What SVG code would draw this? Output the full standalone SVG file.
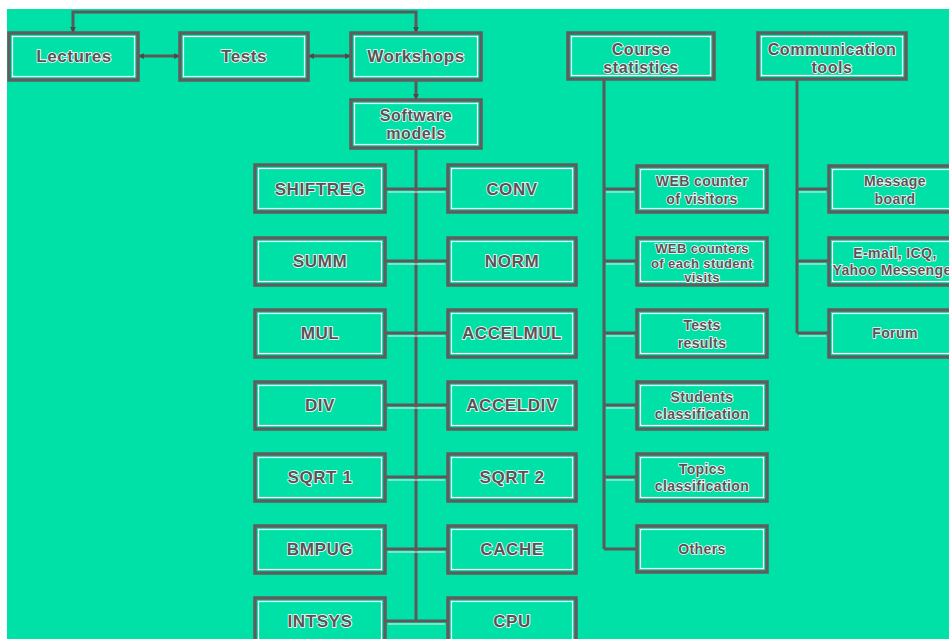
<svg xmlns="http://www.w3.org/2000/svg" width="949" height="639" viewBox="0 0 949 639">
<style>
.frame{fill:none;stroke:#5e5e5e;stroke-width:3.5}
.hl{fill:none;stroke:#ffffff;stroke-width:1.2}
.t{font-family:"Liberation Sans",Arial,sans-serif;font-weight:bold;font-size:17px;letter-spacing:0.6px;fill:#555555;stroke:#ffffff;stroke-width:1.6;paint-order:stroke;text-anchor:middle}
.t2{font-size:16px}
.s{font-family:"Liberation Sans",Arial,sans-serif;font-weight:bold;font-size:14px;letter-spacing:0.4px;fill:#555555;stroke:#ffffff;stroke-width:1.5;paint-order:stroke;text-anchor:middle}
.s3{font-size:13px}
.c{fill:none;stroke:#5a5a5a;stroke-width:3}
.ch{fill:none;stroke:#eeeeee;stroke-width:1}
</style>
<defs>
<marker id="ah" viewBox="0 0 8 8" refX="7" refY="4" markerWidth="6" markerHeight="6" markerUnits="userSpaceOnUse" orient="auto-start-reverse">
<path d="M0,0 L8,4 L0,8 Z" fill="#4a4a4a"/>
</marker>
</defs>
<rect x="0" y="0" width="949" height="639" fill="#ffffff"/>
<rect x="7" y="9" width="942" height="630" fill="#00e1a8"/>

<g id="connectors">
<path class="c" d="M73,32 V12 H416 V32" marker-start="url(#ah)" marker-end="url(#ah)"/>
<path class="c" d="M139,56 H179" marker-start="url(#ah)" marker-end="url(#ah)"/>
<path class="c" d="M309,56 H350" marker-start="url(#ah)" marker-end="url(#ah)"/>
<path class="c" d="M416,81 V99" marker-end="url(#ah)"/>
<path class="c" d="M416,149 V621"/>
<path class="c" d="M386,189 H447 M386,261 H447 M386,333 H447 M386,405 H447 M386,477 H447 M386,549 H447 M386,621 H447"/>
<path class="c" d="M604,80 V549"/>
<path class="c" d="M604,189 H636 M604,261 H636 M604,333 H636 M604,405 H636 M604,477 H636 M604,549 H636"/>
<path class="c" d="M797,80 V333"/>
<path class="c" d="M797,189 H828 M797,261 H828 M797,333 H828"/>
<path class="ch" d="M388,192 H445 M388,264 H445 M388,336 H445 M388,408 H445 M388,480 H445 M388,552 H445 M388,624 H445 M606,192 H634 M606,264 H634 M606,336 H634 M606,408 H634 M606,480 H634 M799,192 H826 M799,264 H826 M799,336 H826"/>
</g>

<g id="lectures"><rect class="frame" x="9" y="33" width="129" height="47"/><rect class="hl" x="12.5" y="36.5" width="122" height="40"/><text class="t" x="74" y="62">Lectures</text></g>
<g id="tests"><rect class="frame" x="180" y="33" width="128" height="47"/><rect class="hl" x="183.5" y="36.5" width="121" height="40"/><text class="t" x="244" y="62">Tests</text></g>
<g id="workshops"><rect class="frame" x="351" y="33" width="130" height="47"/><rect class="hl" x="354.5" y="36.5" width="123" height="40"/><text class="t" x="416" y="62">Workshops</text></g>
<g id="software-models"><rect class="frame" x="351" y="100" width="130" height="48"/><rect class="hl" x="354.5" y="103.5" width="123" height="41"/><text class="t t2" x="416" y="121">Software</text><text class="t t2" x="416" y="139">models</text></g>
<g id="course-statistics"><rect class="frame" x="568" y="33" width="146" height="46"/><rect class="hl" x="571.5" y="36.5" width="139" height="39"/><text class="t t2" x="641" y="55">Course</text><text class="t t2" x="641" y="73">statistics</text></g>
<g id="communication-tools"><rect class="frame" x="758" y="33" width="148" height="46"/><rect class="hl" x="761.5" y="36.5" width="141" height="39"/><text class="t t2" x="832" y="55">Communication</text><text class="t t2" x="832" y="73">tools</text></g>

<g id="shiftreg"><rect class="frame" x="255" y="165" width="130" height="47"/><rect class="hl" x="258.5" y="168.5" width="123" height="40"/><text class="t" x="320" y="195">SHIFTREG</text></g>
<g id="conv"><rect class="frame" x="448" y="165" width="128" height="47"/><rect class="hl" x="451.5" y="168.5" width="121" height="40"/><text class="t" x="512" y="195">CONV</text></g>
<g id="summ"><rect class="frame" x="255" y="238" width="130" height="47"/><rect class="hl" x="258.5" y="241.5" width="123" height="40"/><text class="t" x="320" y="267">SUMM</text></g>
<g id="norm"><rect class="frame" x="448" y="238" width="128" height="47"/><rect class="hl" x="451.5" y="241.5" width="121" height="40"/><text class="t" x="512" y="267">NORM</text></g>
<g id="mul"><rect class="frame" x="255" y="310" width="130" height="47"/><rect class="hl" x="258.5" y="313.5" width="123" height="40"/><text class="t" x="320" y="339">MUL</text></g>
<g id="accelmul"><rect class="frame" x="448" y="310" width="128" height="47"/><rect class="hl" x="451.5" y="313.5" width="121" height="40"/><text class="t" x="512" y="339">ACCELMUL</text></g>
<g id="div"><rect class="frame" x="255" y="382" width="130" height="47"/><rect class="hl" x="258.5" y="385.5" width="123" height="40"/><text class="t" x="320" y="411">DIV</text></g>
<g id="acceldiv"><rect class="frame" x="448" y="382" width="128" height="47"/><rect class="hl" x="451.5" y="385.5" width="121" height="40"/><text class="t" x="512" y="411">ACCELDIV</text></g>
<g id="sqrt1"><rect class="frame" x="255" y="454" width="130" height="47"/><rect class="hl" x="258.5" y="457.5" width="123" height="40"/><text class="t" x="320" y="483">SQRT 1</text></g>
<g id="sqrt2"><rect class="frame" x="448" y="454" width="128" height="47"/><rect class="hl" x="451.5" y="457.5" width="121" height="40"/><text class="t" x="512" y="483">SQRT 2</text></g>
<g id="bmpug"><rect class="frame" x="255" y="526" width="130" height="47"/><rect class="hl" x="258.5" y="529.5" width="123" height="40"/><text class="t" x="320" y="555">BMPUG</text></g>
<g id="cache"><rect class="frame" x="448" y="526" width="128" height="47"/><rect class="hl" x="451.5" y="529.5" width="121" height="40"/><text class="t" x="512" y="555">CACHE</text></g>
<g id="intsys"><rect class="frame" x="255" y="598" width="130" height="47"/><rect class="hl" x="258.5" y="601.5" width="123" height="40"/><text class="t" x="320" y="627">INTSYS</text></g>
<g id="cpu"><rect class="frame" x="448" y="598" width="128" height="47"/><rect class="hl" x="451.5" y="601.5" width="121" height="40"/><text class="t" x="512" y="627">CPU</text></g>

<g id="web-counter"><rect class="frame" x="637" y="166" width="130" height="46"/><rect class="hl" x="640.5" y="169.5" width="123" height="39"/><text class="s" x="702" y="186">WEB counter</text><text class="s" x="702" y="204">of visitors</text></g>
<g id="web-counters"><rect class="frame" x="637" y="238" width="130" height="47"/><rect class="hl" x="640.5" y="241.5" width="123" height="40"/><text class="s s3" x="702" y="253">WEB counters</text><text class="s s3" x="702" y="267.5">of each student</text><text class="s s3" x="702" y="282">visits</text></g>
<g id="tests-results"><rect class="frame" x="637" y="310" width="130" height="47"/><rect class="hl" x="640.5" y="313.5" width="123" height="40"/><text class="s" x="702" y="330">Tests</text><text class="s" x="702" y="348">results</text></g>
<g id="students-classification"><rect class="frame" x="637" y="382" width="130" height="47"/><rect class="hl" x="640.5" y="385.5" width="123" height="40"/><text class="s" x="702" y="402">Students</text><text class="s" x="702" y="419">classification</text></g>
<g id="topics-classification"><rect class="frame" x="637" y="454" width="130" height="47"/><rect class="hl" x="640.5" y="457.5" width="123" height="40"/><text class="s" x="702" y="474">Topics</text><text class="s" x="702" y="491">classification</text></g>
<g id="others"><rect class="frame" x="637" y="526" width="130" height="46"/><rect class="hl" x="640.5" y="529.5" width="123" height="39"/><text class="s" x="702" y="554">Others</text></g>

<g id="message-board"><rect class="frame" x="829" y="166" width="132" height="46"/><rect class="hl" x="832.5" y="169.5" width="125" height="39"/><text class="s" x="895" y="186">Message</text><text class="s" x="895" y="204">board</text></g>
<g id="email-icq"><rect class="frame" x="829" y="238" width="132" height="47"/><rect class="hl" x="832.5" y="241.5" width="125" height="40"/><text class="s" x="895" y="258">E-mail, ICQ,</text><text class="s" x="895" y="275">Yahoo Messenger</text></g>
<g id="forum"><rect class="frame" x="829" y="310" width="132" height="47"/><rect class="hl" x="832.5" y="313.5" width="125" height="40"/><text class="s" x="895" y="338">Forum</text></g>
</svg>
